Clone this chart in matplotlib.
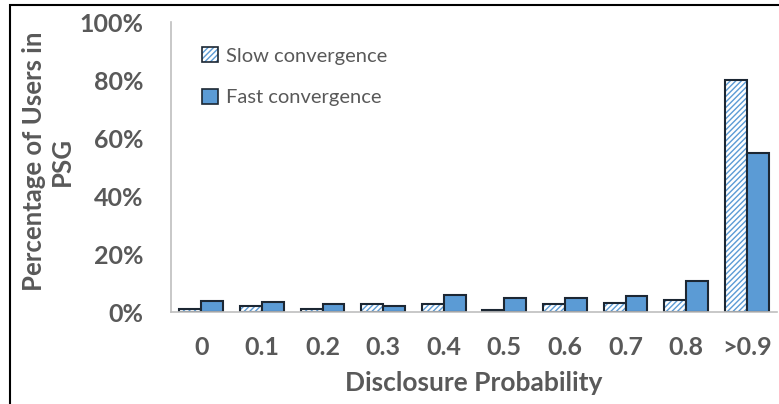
import numpy as np
import matplotlib.pyplot as plt
from matplotlib.patches import Patch, Rectangle

categories = ['0', '0.1', '0.2', '0.3', '0.4', '0.5', '0.6', '0.7', '0.8', '>0.9']
slow = [0.9, 1.9, 0.9, 2.8, 2.6, 0.7, 2.9, 3.0, 4.3, 80.0]
fast = [3.9, 3.5, 2.9, 1.9, 5.8, 4.8, 4.8, 5.6, 10.6, 55.0]
yticks = [0, 20, 40, 60, 80, 100]

blue = '#5B9BD5'
edge = '#1c2733'
grey = '#595959'

plt.rcParams['font.family'] = ['Lato', 'DejaVu Sans']
plt.rcParams['hatch.linewidth'] = 1.0

fig = plt.figure(figsize=(7.79, 4.04), dpi=100)
ax = fig.add_axes([171/779, 1-312/404, 606/779, 290/404])

x = np.arange(len(categories))
w = 0.36
# slow: white with blue hatch, dark outline
ax.bar(x - w/2, slow, w, color='white', edgecolor=blue, hatch='//////', linewidth=0)
ax.bar(x - w/2, slow, w, color='none', edgecolor=edge, linewidth=1.5)
ax.bar(x + w/2, fast, w, color=blue, edgecolor=edge, linewidth=1.5)

ax.set_xlim(-0.5, len(categories) - 0.5)
ax.set_ylim(0, 100)
ax.set_yticks(yticks)
ax.set_yticklabels([f'{v}%' for v in yticks])
ax.set_xticks(x)
ax.set_xticklabels(categories)
ax.tick_params(length=0, labelsize=18, colors=grey)
ax.tick_params(axis='y', pad=20)
ax.tick_params(axis='x', pad=17)
for lab in ax.get_xticklabels() + ax.get_yticklabels():
    lab.set_fontweight('bold')

for s in ['top', 'right']:
    ax.spines[s].set_visible(False)
for s in ['left', 'bottom']:
    ax.spines[s].set_color('#bfbfbf')
    ax.spines[s].set_linewidth(1.2)

ax.set_xlabel('Disclosure Probability', fontsize=19, fontweight='bold', color=grey, labelpad=9)
ax.set_ylabel('Percentage of Users in\nPSG', fontsize=18.5, fontweight='bold', color=grey,
              linespacing=1.2)
ax.yaxis.set_label_coords(-0.160, 0.52)

h1 = (Patch(facecolor='white', edgecolor=blue, hatch='//////', linewidth=0),
      Patch(facecolor='none', edgecolor=edge, linewidth=1.2))
h2 = Patch(facecolor=blue, edgecolor=edge, linewidth=1.2)
leg = ax.legend([h1, h2], ['Slow convergence', 'Fast convergence'], loc='upper left',
                bbox_to_anchor=(0.022, 0.975), frameon=False, fontsize=14.5,
                handlelength=0.75, handleheight=0.75, handletextpad=0.4, labelspacing=1.2)
for t in leg.get_texts():
    t.set_color(grey)

# outer border (cropped screenshot frame)
fig.patches.append(Rectangle((10/779, -0.1), 1.2, 1 - 5/404 + 0.1, transform=fig.transFigure,
                             fill=False, edgecolor='black', linewidth=1.5, clip_on=False))

fig.savefig('out.png', dpi=100)
